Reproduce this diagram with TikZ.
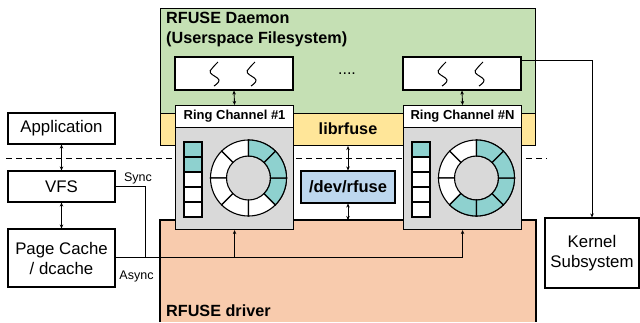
\documentclass[tikz,border=0pt]{standalone}
\usepackage{fontspec}
\setmainfont{Liberation Sans}
\usetikzlibrary{arrows.meta,calc}
\definecolor{cgreen}{HTML}{C5E0B4}
\definecolor{cyellow}{HTML}{FFE699}
\definecolor{corange}{HTML}{F8CBAD}
\definecolor{cgray}{HTML}{D9D9D9}
\definecolor{cteal}{HTML}{8ED1CF}
\definecolor{cblue}{HTML}{BDD7EE}
\tikzset{
  lw/.style={line width=1.1pt},
  box/.style={draw, lw, fill=white, inner sep=0pt, align=center, font=\fontsize{16.8}{20}\selectfont},
  arr/.style={line width=0.9pt, -{Stealth[length=4pt,width=3.5pt]}},
  darr/.style={line width=0.9pt, {Stealth[length=4pt,width=3.5pt]}-{Stealth[length=4pt,width=3.5pt]}},
  boldtxt/.style={font=\fontsize{16.2}{20}\selectfont\bfseries, inner sep=0pt},
  smalltxt/.style={font=\fontsize{12.5}{14}\selectfont, inner sep=0pt},
  region/.style={draw, lw, inner sep=0pt, anchor=north west},
}
\newcommand{\mkring}[5]{%
  \node[region, fill=cgray, minimum width=118pt, minimum height=124pt] (#1) at (#2,-105) {};
  \node[region, fill=white, minimum width=118pt, minimum height=22pt, font=\fontsize{13}{15}\selectfont\bfseries] (#1t) at (#2,-105) {#3};
  \foreach \i in {0,...,4} {\draw[lw, fill=white] (#2+9,-142-15*\i) rectangle (#2+27,-157-15*\i);}
  \foreach \i in {#4} {\draw[lw, fill=cteal] (#2+9,-142-15*\i) rectangle (#2+27,-157-15*\i);}
  \coordinate (#1c) at (#2+73.5,-178);
  \foreach \a in {0,45,...,315} {
    \draw[lw, fill=white] ($(#1c)+(\a:22pt)$) -- ($(#1c)+(\a:38pt)$) arc[start angle=\a, end angle=\a+45, radius=38pt] -- ($(#1c)+({\a+45}:22pt)$) arc[start angle=\a+45, end angle=\a, radius=22pt] -- cycle;}
  \foreach \a in {#5} {
    \draw[lw, fill=cteal] ($(#1c)+(\a:22pt)$) -- ($(#1c)+(\a:38pt)$) arc[start angle=\a, end angle=\a+45, radius=38pt] -- ($(#1c)+({\a+45}:22pt)$) arc[start angle=\a+45, end angle=\a, radius=22pt] -- cycle;}
}
\newcommand{\squig}[1]{%
  \draw[line width=1pt] plot[smooth, tension=0.7] coordinates {(#1+3,-62) (#1-3,-68.5) (#1-4.5,-73) (#1+4,-80) (#1-1,-86)};
}
\begin{document}
\begin{tikzpicture}[x=1pt,y=1pt]
\useasboundingbox (0,0) rectangle (640,-322);
% regions
\node[region, fill=cgreen, minimum width=375pt, minimum height=105pt] (daemon) at (160,-8) {};
\node[region, fill=cyellow, minimum width=375pt, minimum height=32pt] (libband) at (160,-113) {};
\fill[corange] (160,-220) rectangle (536,-322);
\draw[lw] (160,-322) -- (160,-220) -- (536,-220) -- (536,-322);
\coordinate (drv) at (160,-220);
% dashed boundary
\draw[line width=0.9pt, dash pattern=on 6pt off 4pt] (6,-158) -- (547,-158);
% labels of regions
\node[boldtxt, anchor=north west, align=left] (dlabel) at (166,-12) {RFUSE Daemon\\(Userspace Filesystem)};
\node[boldtxt] (liblabel) at (348,-129) {librfuse};
\node[boldtxt, anchor=base west] (drvlabel) at (166,-316) {RFUSE driver};
% threads
\node[box, minimum width=118pt, minimum height=33pt] (th1) at (234,-73.5) {};
\node[box, minimum width=118pt, minimum height=33pt] (thN) at (462,-73.5) {};
\squig{215}\squig{252}
\squig{443}\squig{480}
\node[font=\fontsize{16}{20}\selectfont, inner sep=0pt] (dots) at (347,-74) {....};
% ring channels
\mkring{rc1}{175}{Ring Channel \#1}{0,1}{315,0,45}
\mkring{rcN}{403}{Ring Channel \#N}{0}{225,270,315,0,45}
\draw[darr] (th1.south) -- (rc1t.north);
\draw[darr] (thN.south) -- (rcN.north);
% dev
\node[box, fill=cblue, font=\fontsize{16.5}{20}\selectfont\bfseries, minimum width=94pt, minimum height=32pt] (dev) at (348,-187) {/dev/rfuse};
\draw[darr] (libband.south -| dev.north) -- (dev.north);
\draw[darr] (dev.south) -- (dev.south |- drv);
% left stack
\node[box, minimum width=107pt, minimum height=31pt] (app) at (61.5,-128.5) {Application};
\node[box, minimum width=107pt, minimum height=31pt] (vfs) at (61.5,-186.5) {VFS};
\node[box, minimum width=107pt, minimum height=58pt] (pc) at (61.5,-258) {Page Cache\\/ dcache};
\draw[darr] (app.south) -- (vfs.north);
\draw[darr] (vfs.south) -- (pc.north);
\coordinate (j) at (145,-257);
\draw[line width=0.9pt] (vfs.east) -| (j);
\draw[line width=0.9pt] (pc.east |- j) -- (rcN.south |- j);
\draw[arr] (rc1.south |- j) -- (rc1.south);
\draw[arr] (rcN.south |- j) -- (rcN.south);
\node[smalltxt] (sync) at (138,-178) {Sync};
\node[smalltxt] (async) at (136.5,-276) {Async};
% kernel
\node[box, minimum width=94pt, minimum height=70pt] (kern) at (592,-253) {Kernel\\Subsystem};
\draw[arr] ([yshift=-4pt]thN.north east) -| (kern.north);
\end{tikzpicture}
\end{document}
